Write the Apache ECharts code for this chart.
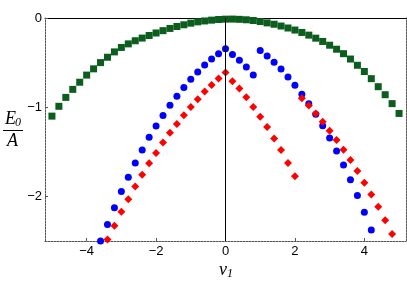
<!DOCTYPE html>
<html>
<head>
<meta charset="utf-8">
<script src="https://cdn.jsdelivr.net/npm/echarts@6/dist/echarts.min.js"></script>
<style>html,body{margin:0;padding:0;background:#fff}#c{width:407px;height:288px}</style>
</head>
<body>
<div id="c"></div>
<script>
const greenX = [-5.0,-4.8,-4.6,-4.4,-4.2,-4.0,-3.8,-3.6,-3.4,-3.2,-3.0,-2.8,-2.6,-2.4,-2.2,-2.0,-1.8,-1.6,-1.4,-1.2,-1.0,-0.8,-0.6,-0.4,-0.2,0.0,0.2,0.4,0.6,0.8,1.0,1.2,1.4,1.6,1.8,2.0,2.2,2.4,2.6,2.8,3.0,3.2,3.4,3.6,3.8,4.0,4.2,4.4,4.6,4.8,5.0];
const greenY = [-1.10,-0.99,-0.89,-0.80,-0.72,-0.64,-0.57,-0.50,-0.44,-0.38,-0.33,-0.29,-0.255,-0.225,-0.196,-0.168,-0.142,-0.117,-0.095,-0.076,-0.058,-0.043,-0.033,-0.024,-0.017,-0.013,-0.012,-0.015,-0.020,-0.028,-0.040,-0.055,-0.070,-0.090,-0.112,-0.135,-0.162,-0.192,-0.226,-0.263,-0.305,-0.350,-0.400,-0.460,-0.530,-0.600,-0.680,-0.770,-0.860,-0.960,-1.070];

const blueX = [-3.6,-3.4,-3.2,-3.0,-2.8,-2.6,-2.4,-2.2,-2.0,-1.8,-1.6,-1.4,-1.2,-1.0,-0.8,-0.6,-0.4,-0.2,0.0,0.2,0.4,0.6,0.8,1.0,1.2,1.4,1.6,1.8,2.0,2.2,2.4,2.6,2.8,3.0,3.2,3.4,3.6,3.8,4.0,4.2];
const blueY = [-2.50,-2.315,-2.128,-1.946,-1.785,-1.626,-1.480,-1.337,-1.212,-1.093,-0.978,-0.877,-0.780,-0.687,-0.606,-0.527,-0.460,-0.400,-0.344,-0.408,-0.475,-0.550,-0.639,-0.363,-0.427,-0.497,-0.572,-0.661,-0.754,-0.855,-0.961,-1.080,-1.209,-1.346,-1.492,-1.648,-1.812,-1.991,-2.177,-2.378];

const redX = [-3.4,-3.2,-3.0,-2.8,-2.6,-2.4,-2.2,-2.0,-1.8,-1.6,-1.4,-1.2,-1.0,-0.8,-0.6,-0.4,-0.2,0.0,0.2,0.4,0.6,0.8,1.0,1.2,1.4,1.6,1.8,2.0,2.2,2.4,2.6,2.8,3.0,3.2,3.4,3.6,3.8,4.0,4.2,4.4,4.6,4.8];
const redY = [-2.483,-2.330,-2.173,-2.031,-1.890,-1.756,-1.629,-1.514,-1.395,-1.287,-1.187,-1.089,-0.997,-0.911,-0.825,-0.751,-0.679,-0.612,-0.709,-0.791,-0.888,-0.997,-1.108,-1.223,-1.350,-1.480,-1.626,-1.774,-0.899,-0.980,-1.070,-1.164,-1.265,-1.369,-1.477,-1.592,-1.715,-1.846,-1.980,-2.117,-2.266,-2.422];

const xTicks = [-4,-2,0,2,4];
const yTicks = [-2,-1,0];

const pairs = (xs, ys) => xs.map((x, i) => [x, ys[i]]);
const fmt = v => (v < 0 ? '\u2212' + Math.abs(v) : String(v));

const chart = echarts.init(document.getElementById('c'), null, {renderer: 'canvas'});
const frame = {lineStyle: {color: '#555', width: 1, type: [2, 1]}};
const lblFont = {fontFamily: 'Liberation Sans', fontSize: 13, color: '#000'};

chart.setOption({
  animation: false,
  backgroundColor: '#fff',
  grid: {left: 45, right: 1, top: 18, bottom: 47, containLabel: false},
  xAxis: [
    {type: 'value', position: 'bottom', min: -5.2, max: 5.2,
     axisLine: {show: true, onZero: false, ...frame},
     axisTick: {show: true, inside: true, length: 3, customValues: xTicks, lineStyle: {color: '#555'}},
     axisLabel: {show: true, customValues: xTicks, formatter: fmt, margin: 4, ...lblFont},
     splitLine: {show: false}},
    {type: 'value', position: 'top', min: -5.2, max: 5.2,
     axisLine: {show: true, onZero: false, lineStyle: {color: '#000', width: 1}},
     axisTick: {show: false}, axisLabel: {show: false}, splitLine: {show: false}}
  ],
  yAxis: [
    {type: 'value', position: 'left', min: -2.5, max: 0,
     axisLine: {show: true, onZero: false, ...frame},
     axisTick: {show: true, inside: true, length: 3, customValues: yTicks, lineStyle: {color: '#555'}},
     axisLabel: {show: true, customValues: yTicks, formatter: fmt, margin: 3, ...lblFont},
     splitLine: {show: false}},
    {type: 'value', position: 'right', min: -2.5, max: 0,
     axisLine: {show: true, onZero: false, ...frame},
     axisTick: {show: false}, axisLabel: {show: false}, splitLine: {show: false}}
  ],
  series: [
    {type: 'scatter', data: pairs(greenX, greenY), symbol: 'rect', symbolSize: 7,
     itemStyle: {color: '#0b5e1d', opacity: 1},
     markLine: {silent: true, symbol: 'none', label: {show: false}, animation: false,
       lineStyle: {color: '#000', width: 1, type: 'solid'}, data: [{xAxis: 0}]}},
    {type: 'scatter', data: pairs(blueX, blueY), symbol: 'circle', symbolSize: 7,
     itemStyle: {color: '#0000ff', opacity: 1}},
    {type: 'scatter', data: pairs(redX, redY), symbol: 'diamond', symbolSize: 8,
     itemStyle: {color: '#ff0000', opacity: 1}}
  ],
  graphic: [
    {type: 'text', left: 5, top: 110, style: {text: 'E', font: 'italic 18px "Liberation Serif"', fill: '#000'}},
    {type: 'text', left: 15, top: 117, style: {text: '0', font: 'italic 12px "Liberation Serif"', fill: '#000'}},
    {type: 'line', shape: {x1: 3, y1: 130.5, x2: 23, y2: 130.5}, style: {stroke: '#000', lineWidth: 1}},
    {type: 'text', left: 7, top: 132, style: {text: 'A', font: 'italic 18px "Liberation Serif"', fill: '#000'}},
    {type: 'text', left: 219, top: 261, style: {text: 'v', font: 'italic 18px "Liberation Serif"', fill: '#000'}},
    {type: 'text', left: 227, top: 268, style: {text: '1', font: 'italic 12px "Liberation Serif"', fill: '#000'}}
  ]
});
</script>
</body>
</html>
